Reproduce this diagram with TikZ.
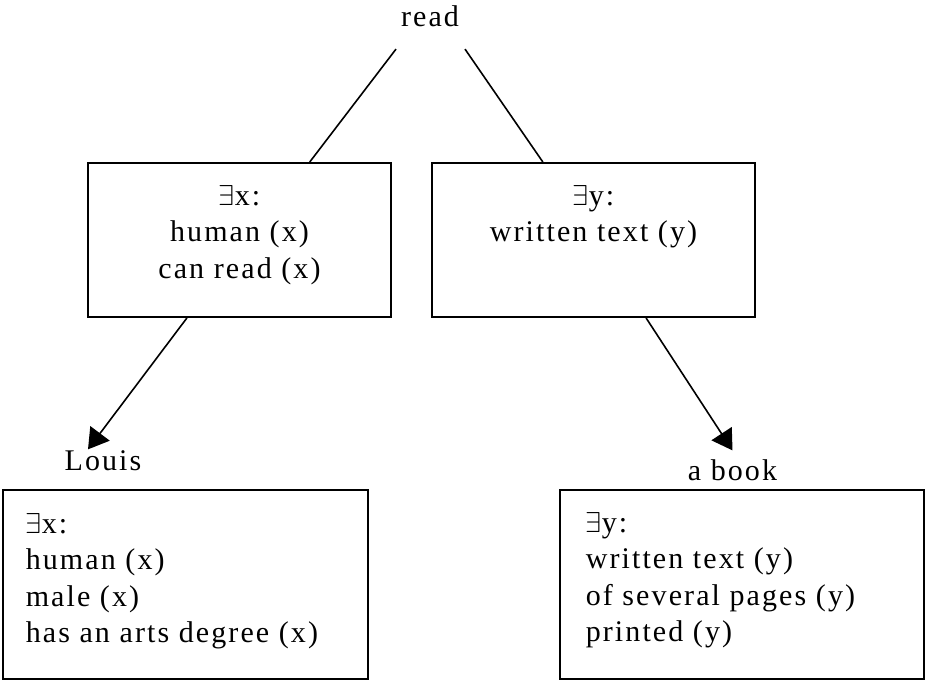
\documentclass[tikz,border=0pt]{standalone}
\usepackage{fontspec}
\setmainfont{Liberation Serif}[LetterSpace=7]
\usetikzlibrary{arrows.meta}
\tikzset{>={Triangle[length=10pt,width=12pt]}}

\begin{document}
\begin{tikzpicture}[x=0.5pt,y=-0.5pt,line width=0.8pt,
  every node/.style={font=\fontsize{15}{18.25}\selectfont,inner sep=0pt},
  frame/.style={draw,line width=1pt}]
\useasboundingbox (0,0) rectangle (927,682);
% top word
\node[anchor=base] (read) at (430,26) {read};
% upper boxes (text placed by its last baseline)
\node[frame,minimum width=151.5pt,minimum height=77pt] (boxA) at (239.5,240) {};
\node[frame,minimum width=161.5pt,minimum height=77pt] (boxB) at (593.5,240) {};
\node[anchor=base,align=center] (textA) at (239.5,278) {$\exists$x:\\human (x)\\can read (x)};
\node[anchor=base,align=center] (textB) at (593.5,241.5) {$\exists$y:\\written text (y)};
% lower boxes
\node[anchor=base] (louis) at (103,470) {Louis};
\node[anchor=base] (book) at (732.5,480) {a book};
\node[frame,minimum width=182.5pt,minimum height=94.5pt] (boxC) at (185.5,584.5) {};
\node[frame,minimum width=182pt,minimum height=94.5pt] (boxD) at (742,584.5) {};
\node[anchor=base west,align=left] (textC) at (25,642.5) {$\exists$x:\\human (x)\\male (x)\\has an arts degree (x)};
\node[anchor=base west,align=left] (textD) at (585,641.5) {$\exists$y:\\written text (y)\\of several pages (y)\\printed (y)};
% connectors
\draw ([shift={(-17pt,-11pt)}]read.south) -- (boxA.48.35);
\draw ([shift={(17.5pt,-11pt)}]read.south) -- (boxB.123.78);
\draw[->] (boxA.236.74) -- ([xshift=-7.5pt]louis.north);
\draw[->] (boxB.304.79) -- ([yshift=4pt]book.north);
\end{tikzpicture}
\end{document}
